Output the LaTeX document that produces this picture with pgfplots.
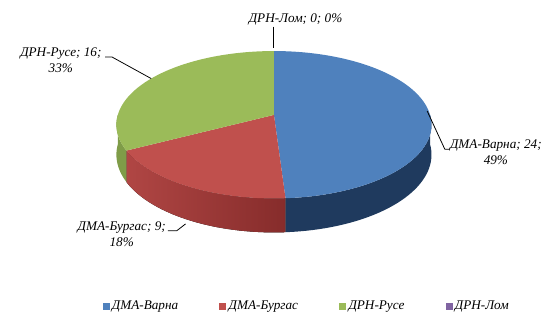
\documentclass[border=0pt]{standalone}
\usepackage{pgfplots}
\pgfplotsset{compat=1.18}
\usepackage{pgfplotstable}
\usepgfplotslibrary{fillbetween}
\usepackage{fontspec}
\setmainfont{Liberation Serif}

\definecolor{cBlue}{HTML}{4F81BD}
\definecolor{cBlueS}{HTML}{1F3A5E}
\definecolor{cRed}{HTML}{C0504D}
\definecolor{cRedL}{HTML}{B04644}
\definecolor{cRedD}{HTML}{862C2B}
\definecolor{cGreen}{HTML}{9BBB59}
\definecolor{cGreenS}{HTML}{7F9C48}
\definecolor{cPurple}{HTML}{8064A2}

\pgfplotstableread{
name value
Varna 24
Burgas 9
Ruse 16
Lom 0
}\piedata

\begin{document}
\pgfplotstablegetelem{0}{value}\of\piedata \let\vA\pgfplotsretval
\pgfplotstablegetelem{1}{value}\of\piedata \let\vB\pgfplotsretval
\pgfplotstablegetelem{2}{value}\of\piedata \let\vC\pgfplotsretval
\pgfplotstablegetelem{3}{value}\of\piedata \let\vD\pgfplotsretval
\pgfmathsetmacro\tot{\vA+\vB+\vC+\vD}
\pgfmathsetmacro\aA{90-360*\vA/\tot}
\pgfmathsetmacro\aB{\aA-360*\vB/\tot}
\pgfmathsetmacro\aC{\aB-360*\vC/\tot}
\begin{tikzpicture}
\begin{axis}[
  scale only axis, width=544bp, height=317bp,
  xmin=0, xmax=544, ymin=0, ymax=317,
  hide axis, clip=false,
  declare function={
    ww(\t)=1+0.1335*sin(\t);
    px(\t)=269+159*cos(\t)/ww(\t);
    py(\t)=200+73.7*sin(\t)/ww(\t);
    pd(\t)=30/ww(\t);
  },
  legend style={at={(axis description cs:0.168,0.016)}, anchor=west, draw=none, fill=none,
    font=\itshape\fontsize{13.5}{15}\selectfont,
    /tikz/every even column/.append style={column sep=40bp},
    /tikz/every odd column/.append style={column sep=1bp}},
  legend columns=4,
  legend cell align=left,
  legend image code/.code={\fill[#1] (0bp,-3bp) rectangle (6bp,3bp);},
]
% sides
\addplot[draw=none, forget plot, name path=bAt, domain=\aA:0, samples=40] ({px(x)},{py(x)});
\addplot[draw=none, forget plot, name path=bAb, domain=\aA:0, samples=40] ({px(x)},{py(x)-pd(x)});
\addplot[cBlueS, forget plot] fill between[of=bAt and bAb];
\addplot[draw=none, forget plot, name path=bBt, domain=\aB:\aA, samples=40] ({px(x)},{py(x)});
\addplot[draw=none, forget plot, name path=bBb, domain=\aB:\aA, samples=40] ({px(x)},{py(x)-pd(x)});
\addplot[left color=cRedL, right color=cRedD, draw=none, forget plot] fill between[of=bBt and bBb];
\addplot[draw=none, forget plot, name path=bCt, domain=-180:\aB, samples=20] ({px(x)},{py(x)});
\addplot[draw=none, forget plot, name path=bCb, domain=-180:\aB, samples=20] ({px(x)},{py(x)-pd(x)});
\addplot[cGreenS, forget plot] fill between[of=bCt and bCb];
% tops
\addplot[fill=cBlue, draw=none, forget plot, domain=\aA:90, samples=90] ({px(x)},{py(x)}) -- (axis cs:269,200) -- cycle;
\addplot[fill=cRed, draw=none, forget plot, domain=\aB:\aA, samples=50] ({px(x)},{py(x)}) -- (axis cs:269,200) -- cycle;
\addplot[fill=cGreen, draw=none, forget plot, domain=\aC:\aB, samples=70] ({px(x)},{py(x)}) -- (axis cs:269,200) -- cycle;
% leader lines
\draw[black, line width=0.8bp] (axis cs:268,290) -- (axis cs:268,268);
\draw[black, line width=0.8bp] (axis cs:97,259) -- (axis cs:104,259) -- (axis cs:144,237);
\draw[black, line width=0.8bp] (axis cs:425,204) -- (axis cs:443,165) -- (axis cs:448,165);
\draw[black, line width=0.8bp] (axis cs:161,82) -- (axis cs:170,82) -- (axis cs:179,89);
% labels
\begin{scope}[every node/.style={font=\itshape\fontsize{13.5}{16}\selectfont, align=center, inner sep=0pt}]
\node at (axis cs:291,297) {ДРН-Лом; 0; 0\%};
\node at (axis cs:52,255.5) {ДРН-Русе; 16;\\33\%};
\node at (axis cs:495,162) {ДМА-Варна; 24;\\49\%};
\node at (axis cs:114,78.5) {ДМА-Бургас; 9;\\18\%};
\end{scope}
\addlegendimage{cBlue}\addlegendentry{ДМА-Варна}
\addlegendimage{cRed}\addlegendentry{ДМА-Бургас}
\addlegendimage{cGreen}\addlegendentry{ДРН-Русе}
\addlegendimage{cPurple}\addlegendentry{ДРН-Лом}
\end{axis}
\pgfresetboundingbox
\useasboundingbox (current axis.south west) rectangle (current axis.north east);
\end{tikzpicture}
\end{document}
